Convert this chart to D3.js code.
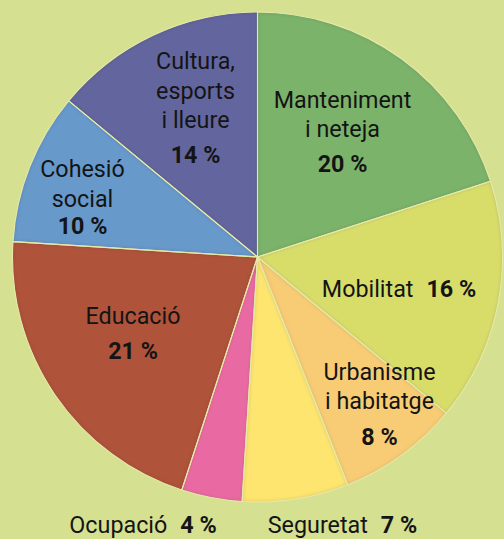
<!DOCTYPE html>
<html><head><meta charset="utf-8">
<script src="https://cdn.jsdelivr.net/npm/d3@7"></script>
<style>
html,body{margin:0;padding:0;background:#d5e090;}
svg{display:block;}
text{font-family:Roboto,"Noto Sans",sans-serif;fill:#141414;}
</style></head><body>
<div id="chart"></div>
<script>
// ---- data ----
const categories = ["Manteniment i neteja","Mobilitat","Urbanisme i habitatge","Seguretat","Ocupació","Educació","Cohesió social","Cultura, esports i lleure"];
const values = [20,16,8,7,4,21,10,14];
const colors = ["#7bb36a","#d8dd6b","#f8cc75","#fde570","#e96aa3","#af523b","#6799cb","#63669e"];
const labelLines = [["Manteniment","i neteja"],["Mobilitat"],["Urbanisme","i habitatge"],["Seguretat"],["Ocupació"],["Educació"],["Cohesió","social"],["Cultura,","esports","i lleure"]];
const pctLabels = values.map(v => v + " %");

// ---- layout ----
const W = 504, H = 539, cx = 257.5, cy = 257, R = 245;
const FS = 23.3;
const labelLayout = [
  {x:342.5, y:107.5, lh:29, pctGap:35.5, mode:"stack"},
  {x:399,   y:296.5, mode:"inline"},
  {x:379.5, y:380,   lh:28.5, pctGap:36, mode:"stack"},
  {x:342.5, y:533,   mode:"inline"},
  {x:143,   y:533,   mode:"inline"},
  {x:133,   y:324,   lh:29, pctGap:35, mode:"stack"},
  {x:82.5,  y:176.5, lh:30, pctGap:27.5, mode:"stack"},
  {x:195.5, y:69,    lh:29.5, pctGap:35, mode:"stack"}
];

const svg = d3.select("#chart").append("svg").attr("width",W).attr("height",H);
svg.append("rect").attr("width",W).attr("height",H).attr("fill","#d5e090");

const defs = svg.append("defs");
const f = defs.append("filter").attr("id","bevel").attr("x","-5%").attr("y","-5%").attr("width","110%").attr("height","110%");
f.append("feComponentTransfer").attr("in","SourceAlpha").attr("result","inv")
  .append("feFuncA").attr("type","table").attr("tableValues","1 0");
f.append("feGaussianBlur").attr("in","inv").attr("stdDeviation","2.2").attr("result","blur");
f.append("feComposite").attr("in","blur").attr("in2","SourceAlpha").attr("operator","in").attr("result","shadow");
f.append("feColorMatrix").attr("in","shadow").attr("type","matrix")
  .attr("values","0 0 0 0 0  0 0 0 0 0  0 0 0 0 0  0 0 0 0.35 0").attr("result","shadow2");
const fm = f.append("feMerge");
fm.append("feMergeNode").attr("in","SourceGraphic");
fm.append("feMergeNode").attr("in","shadow2");

const pie = d3.pie().value(d => d).sort(null);
const arc = d3.arc().innerRadius(0).outerRadius(R);
const arcs = pie(values);

const g = svg.append("g").attr("transform",`translate(${cx},${cy})`);
g.selectAll("path.slice").data(arcs).join("path")
  .attr("class","slice")
  .attr("d",arc)
  .attr("fill",(d,i)=>colors[i])
  .attr("filter","url(#bevel)");
g.selectAll("path.edge").data(arcs).join("path")
  .attr("class","edge")
  .attr("d",arc)
  .attr("fill","none")
  .attr("stroke","#e6e9a8")
  .attr("stroke-width",1.1)
  .attr("stroke-linejoin","round");

const lab = svg.append("g");
categories.forEach((c,i) => {
  const L = labelLayout[i];
  if (L.mode === "stack") {
    const t = lab.append("text").attr("text-anchor","middle").attr("font-size",FS);
    labelLines[i].forEach((ln,k) => {
      t.append("tspan").attr("x",L.x).attr("y",L.y + k*L.lh).text(ln);
    });
    const lastY = L.y + (labelLines[i].length-1)*L.lh;
    t.append("tspan").attr("x",L.x).attr("y",lastY + L.pctGap)
      .attr("font-weight",700).text(pctLabels[i]);
  } else {
    const t = lab.append("text").attr("text-anchor","middle").attr("font-size",FS)
      .attr("x",L.x).attr("y",L.y);
    t.append("tspan").text(labelLines[i][0]);
    t.append("tspan").attr("dx",13).attr("font-weight",700).text(pctLabels[i]);
  }
});
</script>
</body></html>
